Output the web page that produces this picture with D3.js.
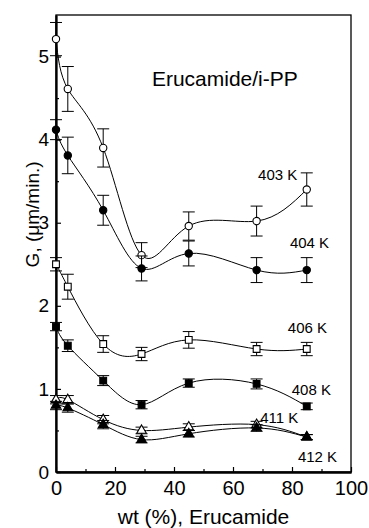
<!DOCTYPE html>
<html>
<head>
<meta charset="utf-8">
<script src="https://cdn.jsdelivr.net/npm/d3@7"></script>
<style>
  body { margin: 0; background: #fff; }
  svg { display: block; font-family: "Liberation Sans", Arial, sans-serif; }
</style>
</head>
<body>
<script>
// Chart data
const wtPct = [0, 4, 16, 29, 45, 68, 85];

const g403 = [5.21, 4.61, 3.90, 2.61, 2.96, 3.02, 3.40];
const e403 = [0.20, 0.27, 0.23, 0.15, 0.17, 0.18, 0.20];
const g404 = [4.12, 3.81, 3.15, 2.45, 2.63, 2.43, 2.43];
const e404 = [0.12, 0.22, 0.18, 0.15, 0.15, 0.15, 0.15];
const g406 = [2.50, 2.23, 1.54, 1.42, 1.59, 1.48, 1.48];
const e406 = [0.08, 0.15, 0.10, 0.08, 0.10, 0.08, 0.08];
const g408 = [1.75, 1.52, 1.10, 0.81, 1.07, 1.06, 0.79];
const e408 = [0.05, 0.07, 0.06, 0.05, 0.05, 0.06, 0.04];
const g411 = [0.87, 0.87, 0.63, 0.50, 0.54, 0.57, 0.42];
const e411 = [0.05, 0.05, 0.05, 0.04, 0.04, 0.04, 0.03];
const g412 = [0.80, 0.77, 0.57, 0.39, 0.46, 0.53, 0.42];
const e412 = [0.05, 0.05, 0.05, 0.04, 0.04, 0.04, 0.03];

const seriesNames = ['403 K', '404 K', '406 K', '408 K', '411 K', '412 K'];
const seriesShapes = ['circleOpen', 'circleFilled', 'squareOpen', 'squareFilled', 'triangleOpen', 'triangleFilled'];
// where each temperature label sits, in data units
const labelX = [68.5, 79.3, 78.6, 79.9, 69.2, 82.0];
const labelY = [3.51, 2.70, 1.67, 0.93, 0.59, 0.12];

const xTicks = [0, 20, 40, 60, 80, 100];
const yTicks = [0, 1, 2, 3, 4, 5];

const series = [
  { vals: g403, errs: e403 },
  { vals: g404, errs: e404 },
  { vals: g406, errs: e406 },
  { vals: g408, errs: e408 },
  { vals: g411, errs: e411 },
  { vals: g412, errs: e412 }
].map((s, i) => ({
  name: seriesNames[i],
  shape: seriesShapes[i],
  points: wtPct.map((x, j) => ({ x: x, y: s.vals[j], e: s.errs[j] }))
}));

// Layout
const width = 369;
const height = 528;
const margin = { top: 15, right: 18, bottom: 56, left: 56 };
const fontFam = '"Liberation Sans", Arial, sans-serif';

const svg = d3.select('body')
  .append('svg')
  .attr('width', width)
  .attr('height', height);

const x = d3.scaleLinear().domain([0, 100]).range([margin.left, width - margin.right]);
const y = d3.scaleLinear().domain([0, 5.5]).range([height - margin.bottom, margin.top]);

// frame
svg.append('rect')
  .attr('x', x(0))
  .attr('y', y(5.5))
  .attr('width', x(100) - x(0))
  .attr('height', y(0) - y(5.5))
  .attr('fill', 'none')
  .attr('stroke', '#000')
  .attr('stroke-width', 1.3);

// axes, ticks pointing inward
const xAxis = svg.append('g')
  .attr('transform', `translate(0,${y(0)})`)
  .call(d3.axisBottom(x).tickValues(xTicks).tickFormat(d3.format('d'))
    .tickSizeInner(-5).tickSizeOuter(0).tickPadding(9));
xAxis.selectAll('.tick text').attr('font-size', 20).attr('font-family', fontFam);

svg.append('g')
  .attr('transform', `translate(0,${y(0)})`)
  .call(d3.axisBottom(x).tickValues(d3.range(10, 100, 20)).tickSizeInner(-3).tickSizeOuter(0).tickFormat(''));

const yAxis = svg.append('g')
  .attr('transform', `translate(${x(0)},0)`)
  .call(d3.axisLeft(y).tickValues(yTicks).tickFormat(d3.format('d'))
    .tickSizeInner(-5).tickSizeOuter(0).tickPadding(7));
yAxis.selectAll('.tick text').attr('font-size', 19).attr('font-family', fontFam);

svg.append('g')
  .attr('transform', `translate(${x(0)},0)`)
  .call(d3.axisLeft(y).tickValues(d3.range(0.5, 5.5, 1)).tickSizeInner(-3).tickSizeOuter(0).tickFormat(''));

svg.selectAll('.domain').attr('stroke-width', 1.8);
svg.selectAll('.tick line').attr('stroke-width', 1.2);

// axis titles
svg.append('text')
  .attr('x', (x(0) + x(100)) / 2)
  .attr('y', 524)
  .attr('text-anchor', 'middle')
  .attr('font-size', 21)
  .text('wt (%), Erucamide');

svg.append('text')
  .attr('transform', `translate(39,${y(3.1)}) rotate(-90)`)
  .attr('text-anchor', 'middle')
  .attr('font-size', 19)
  .text('G, (\u03bcm/min.)');

svg.append('text')
  .attr('x', x(32.5))
  .attr('y', y(4.64))
  .attr('font-size', 21)
  .text('Erucamide/i-PP');

// curves
const line = d3.line()
  .x(d => x(d.x))
  .y(d => y(d.y))
  .curve(d3.curveNatural);

const groups = svg.selectAll('.series')
  .data(series)
  .enter()
  .append('g')
  .attr('class', 'series');

groups.append('path')
  .attr('d', d => line(d.points))
  .attr('fill', 'none')
  .attr('stroke', '#000')
  .attr('stroke-width', 1);

// error bars
const capW = 6;
groups.each(function (s) {
  const g = d3.select(this);
  const eb = g.selectAll('.eb')
    .data(s.points)
    .enter()
    .append('g')
    .attr('stroke', '#000')
    .attr('stroke-width', 1);
  eb.append('line')
    .attr('x1', d => x(d.x)).attr('x2', d => x(d.x))
    .attr('y1', d => y(d.y - d.e)).attr('y2', d => y(d.y + d.e));
  eb.append('line')
    .attr('x1', d => x(d.x) - capW).attr('x2', d => x(d.x) + capW)
    .attr('y1', d => y(d.y + d.e)).attr('y2', d => y(d.y + d.e));
  eb.append('line')
    .attr('x1', d => x(d.x) - capW).attr('x2', d => x(d.x) + capW)
    .attr('y1', d => y(d.y - d.e)).attr('y2', d => y(d.y - d.e));
});

// markers
const symbolType = {
  circleOpen: d3.symbolCircle, circleFilled: d3.symbolCircle,
  squareOpen: d3.symbolSquare, squareFilled: d3.symbolSquare,
  triangleOpen: d3.symbolTriangle, triangleFilled: d3.symbolTriangle
};
const symbolSize = { circleOpen: 42, circleFilled: 42, squareOpen: 46, squareFilled: 46, triangleOpen: 40, triangleFilled: 40 };

groups.each(function (s) {
  d3.select(this).selectAll('.mk')
    .data(s.points)
    .enter()
    .append('path')
    .attr('transform', d => `translate(${x(d.x)},${y(d.y)})`)
    .attr('d', d3.symbol().type(symbolType[s.shape]).size(symbolSize[s.shape]))
    .attr('fill', s.shape.endsWith('Open') ? '#fff' : '#000')
    .attr('stroke', '#000')
    .attr('stroke-width', 1.1);
});

// temperature labels
svg.selectAll('.tlabel')
  .data(seriesNames)
  .enter()
  .append('text')
  .attr('x', (d, i) => x(labelX[i]))
  .attr('y', (d, i) => y(labelY[i]))
  .attr('font-size', 15)
  .text(d => d);
</script>
</body>
</html>
